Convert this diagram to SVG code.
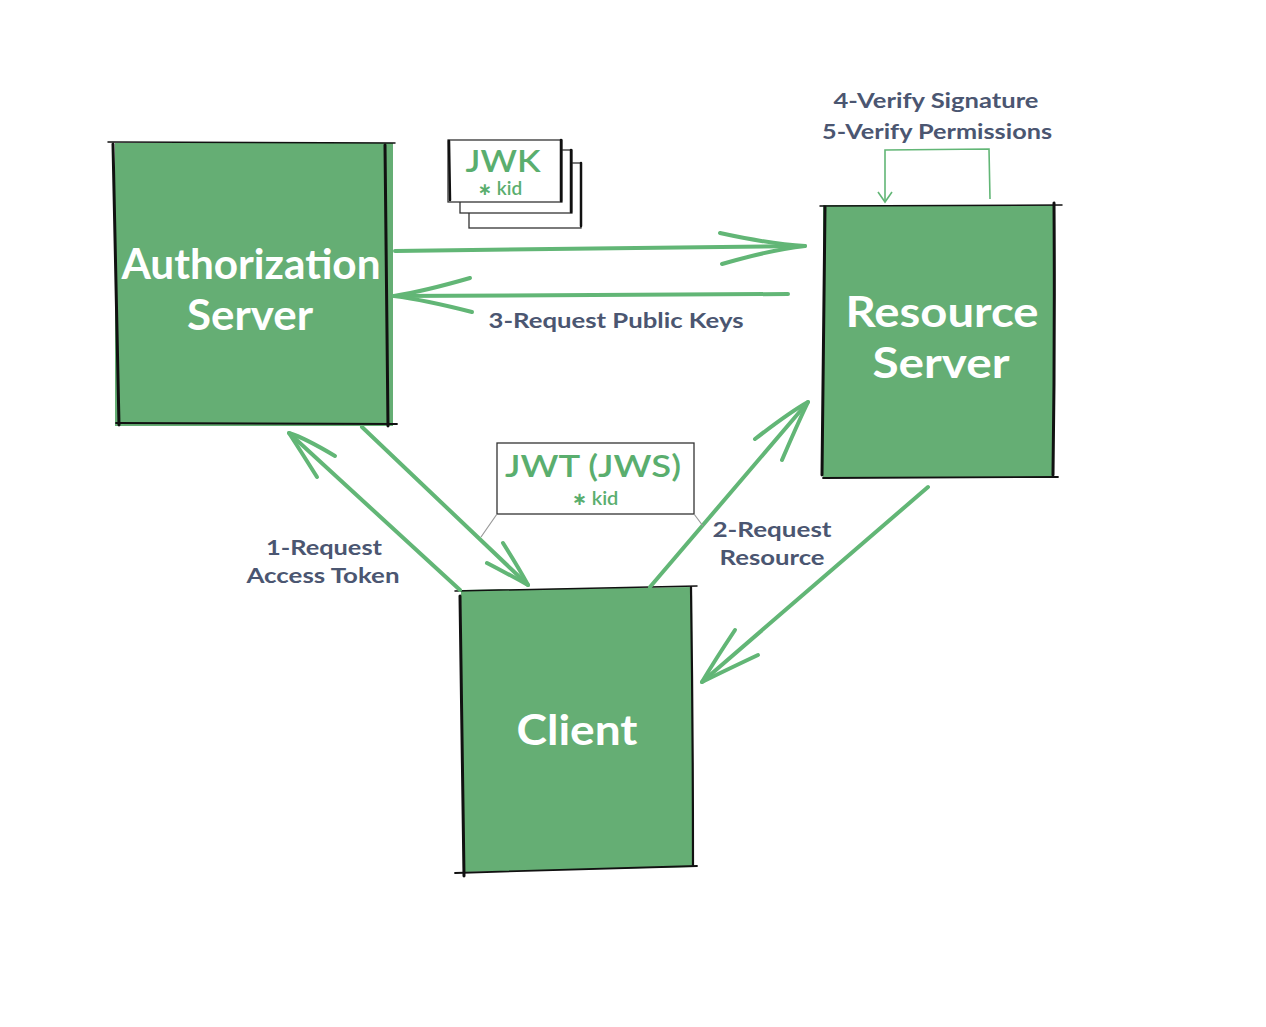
<svg xmlns="http://www.w3.org/2000/svg" width="1266" height="1027" viewBox="0 0 1266 1027">
<style>
.box{fill:#65ae74}
.edge{fill:none;stroke:#111;stroke-linecap:round}
.title{font-family:Lato,"Liberation Sans",sans-serif;font-weight:700;fill:#fff;text-anchor:middle;font-size:42px}
.lbl{font-family:Lato,"Liberation Sans",sans-serif;font-weight:700;fill:#4b5671;text-anchor:middle;font-size:21px}
.tok{font-family:Lato,"Liberation Sans",sans-serif;font-weight:600;fill:#5aae6e;text-anchor:middle}
.ast{font-family:"DejaVu Sans",sans-serif;font-weight:700}
.card{fill:#fff;stroke:#333;stroke-width:1.3}
.arr{fill:none;stroke:#62b676;stroke-width:4;stroke-linecap:round;stroke-linejoin:round}
.thin{fill:none;stroke:#62b676;stroke-width:1.6}
.lead{fill:none;stroke:#999;stroke-width:1.2}
</style>
<rect width="1266" height="1027" fill="#fff"/>

<g id="auth-server">
<rect class="box" x="115" y="143" width="278" height="283"/>
<path class="edge" stroke-width="1.5" d="M108 142 L395 143"/>
<path class="edge" stroke-width="3" d="M113 144 Q116 290 119 425"/>
<path class="edge" stroke-width="3" d="M385 145 Q387 290 388 426"/>
<path class="edge" stroke-width="1.8" d="M116 423 L397 424"/>
<text class="title" x="251" y="279" textLength="259" lengthAdjust="spacingAndGlyphs">Authorization</text>
<text class="title" x="250" y="330" textLength="126" lengthAdjust="spacingAndGlyphs">Server</text>
</g>

<g id="resource-server">
<rect class="box" x="823" y="205" width="230" height="273"/>
<path class="edge" stroke-width="1.5" d="M820 206 L1062 205"/>
<path class="edge" stroke-width="3" d="M825 207 Q823 340 822 475"/>
<path class="edge" stroke-width="3" d="M1054 203 Q1055 340 1053 475"/>
<path class="edge" stroke-width="1.8" d="M823 478 L1058 477"/>
<text class="title" x="942" y="327" textLength="193" lengthAdjust="spacingAndGlyphs">Resource</text>
<text class="title" x="941" y="378" textLength="137" lengthAdjust="spacingAndGlyphs">Server</text>
</g>

<g id="client">
<polygon class="box" points="461,590 692,587 693,867 463,872"/>
<path class="edge" stroke-width="1.5" d="M455 591 L697 586"/>
<path class="edge" stroke-width="3" d="M460 596 Q462 740 464 876"/>
<path class="edge" stroke-width="2.2" d="M691 587 Q693 730 693 866"/>
<path class="edge" stroke-width="1.8" d="M455 873 L697 866"/>
<text class="title" x="577" y="745" textLength="121" lengthAdjust="spacingAndGlyphs">Client</text>
</g>

<g id="jwk">
<rect class="card" x="469" y="163" width="112" height="65"/>
<rect class="card" x="460" y="150" width="112" height="63"/>
<rect class="card" x="448" y="140" width="114" height="62"/>
<path class="edge" stroke-width="2.5" d="M449 141 L450 200 M561 140 L561 201 M571 150 L571 212 M581 163 L581 226"/>
<text class="tok" x="503" y="172" font-size="30" textLength="75" lengthAdjust="spacingAndGlyphs">JWK</text>
<text class="tok" x="500" y="195" font-size="19"><tspan class="ast" font-size="17">∗</tspan> kid</text>
</g>

<g id="jwt">
<rect class="card" x="497" y="443" width="197" height="71"/>
<text class="tok" x="593" y="477" font-size="31" textLength="176" lengthAdjust="spacingAndGlyphs">JWT (JWS)</text>
<text class="tok" x="595" y="505" font-size="20"><tspan class="ast" font-size="18">∗</tspan> kid</text>
</g>

<g id="connectors">
<path class="arr" d="M395 251 L805 246"/>
<path class="arr" d="M720 233 Q770 244 805 246 Q770 250 722 264"/>
<path class="arr" d="M788 294 L394 296"/>
<path class="arr" d="M470 278 Q425 291 394 296 Q425 300 472 312"/>
<path class="arr" d="M460 590 L289 433"/>
<path class="arr" d="M335 456 Q305 438 289 433 Q300 450 317 477"/>
<path class="arr" d="M362 427 L528 585"/>
<path class="arr" d="M503 543 Q520 570 528 585 Q510 575 487 563"/>
<path class="arr" d="M650 587 L808 402"/>
<path class="arr" d="M755 439 Q790 412 808 402 Q797 425 782 460"/>
<path class="arr" d="M928 487 L702 682"/>
<path class="arr" d="M758 655 Q722 672 702 682 Q715 660 735 630"/>
<path class="thin" d="M990 199 L989 149 L885 150 L885 202"/>
<path class="thin" d="M878 192 L885 202 L892 192"/>
<path class="lead" d="M497 514 L481 537 M694 514 L703 526"/>
</g>

<g id="labels">
<text class="lbl" x="936" y="108" textLength="205" lengthAdjust="spacingAndGlyphs">4-Verify Signature</text>
<text class="lbl" x="937" y="139" textLength="230" lengthAdjust="spacingAndGlyphs">5-Verify Permissions</text>
<text class="lbl" x="616" y="328" textLength="255" lengthAdjust="spacingAndGlyphs">3-Request Public Keys</text>
<text class="lbl" x="324" y="555" textLength="116" lengthAdjust="spacingAndGlyphs">1-Request</text>
<text class="lbl" x="323" y="583" textLength="153" lengthAdjust="spacingAndGlyphs">Access Token</text>
<text class="lbl" x="772" y="537" textLength="119" lengthAdjust="spacingAndGlyphs">2-Request</text>
<text class="lbl" x="772" y="565" textLength="105" lengthAdjust="spacingAndGlyphs">Resource</text>
</g>
</svg>
